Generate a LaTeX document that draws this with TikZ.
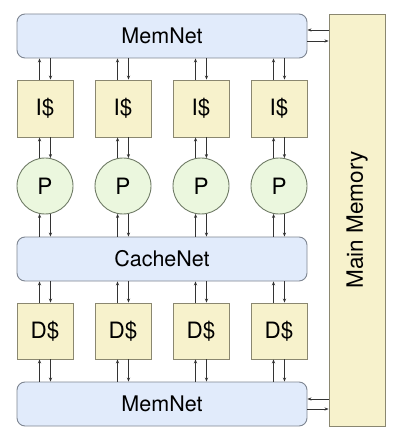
\documentclass[tikz,border=0pt]{standalone}
\usepackage{fontspec}
\setmainfont{TeX Gyre Heros}
\usetikzlibrary{arrows.meta}
\definecolor{netfill}{HTML}{E1EBFB}
\definecolor{netdraw}{HTML}{7E8591}
\definecolor{cachefill}{HTML}{F7F2CC}
\definecolor{cachedraw}{HTML}{8A8770}
\definecolor{procfill}{HTML}{EBF7DE}
\definecolor{procdraw}{HTML}{6F7B66}
\definecolor{linkcol}{HTML}{333333}
\tikzset{
  netbox/.style={draw=netdraw, fill=netfill, line width=0.9pt, rounded corners=8pt,
    minimum width=290pt, minimum height=44pt, inner sep=0pt, font=\fontsize{21.5}{24}\selectfont},
  cachebox/.style={draw=cachedraw, fill=cachefill, line width=0.9pt,
    minimum width=56pt, minimum height=56pt, inner sep=0pt, font=\fontsize{22.5}{24}\selectfont},
  procnode/.style={circle, draw=procdraw, fill=procfill, line width=0.9pt,
    minimum size=56pt, inner sep=0pt, font=\fontsize{22.5}{24}\selectfont},
  memlink/.style={draw=linkcol, line width=0.7pt, -{Stealth[length=4pt,width=3.2pt]}},
}
\begin{document}
\begin{tikzpicture}[x=1pt, y=-1pt]
\useasboundingbox (0,0) rectangle (400,443);
\node[netbox] (mt) at (162,36) {MemNet};
\node[netbox] (cn) at (162,259) {CacheNet};
\node[netbox] (mb) at (162,404) {MemNet};
\node[cachebox, minimum height=412pt] (mm) at (357,220) {};
\node[rotate=90, font=\fontsize{22.5}{24}\selectfont] (mmt) at (mm.center) {Main Memory};
\foreach \i in {1,2,3,4} {
  \pgfmathsetmacro{\cx}{45+78*(\i-1)}
  \node[cachebox, minimum height=57pt] (I\i) at (\cx,108.5) {I\$};
  \node[procnode] (P\i) at (\cx,186) {P};
  \node[cachebox] (D\i) at (\cx,331) {D\$};
  % MemNet <-> I$
  \draw[memlink] ([xshift=-5.5pt]I\i.north) -- ([xshift=-5.5pt]I\i.north |- mt.south);
  \draw[memlink] ([xshift=5.5pt]I\i.north |- mt.south) -- ([xshift=5.5pt]I\i.north);
  % I$ <-> P
  \draw[memlink] (P\i.101) -- (P\i.101 |- I\i.south);
  \draw[memlink] (P\i.79 |- I\i.south) -- (P\i.79);
  % P <-> CacheNet
  \draw[memlink] (P\i.259 |- cn.north) -- (P\i.259);
  \draw[memlink] (P\i.281) -- (P\i.281 |- cn.north);
  % CacheNet <-> D$
  \draw[memlink] ([xshift=-5.5pt]D\i.north) -- ([xshift=-5.5pt]D\i.north |- cn.south);
  \draw[memlink] ([xshift=5.5pt]D\i.north |- cn.south) -- ([xshift=5.5pt]D\i.north);
  % D$ <-> MemNet
  \draw[memlink] ([xshift=-5.5pt]D\i.south |- mb.north) -- ([xshift=-5.5pt]D\i.south);
  \draw[memlink] ([xshift=5.5pt]D\i.south) -- ([xshift=5.5pt]D\i.south |- mb.north);
}
\draw[memlink] ([yshift=-5pt]mt.east) -- ([yshift=-5pt]mt.east -| mm.west);
\draw[memlink] ([yshift=6pt]mt.east -| mm.west) -- ([yshift=6pt]mt.east);
\draw[memlink] ([yshift=-5pt]mb.east) -- ([yshift=-5pt]mb.east -| mm.west);
\draw[memlink] ([yshift=5pt]mb.east -| mm.west) -- ([yshift=5pt]mb.east);
\end{tikzpicture}
\end{document}
